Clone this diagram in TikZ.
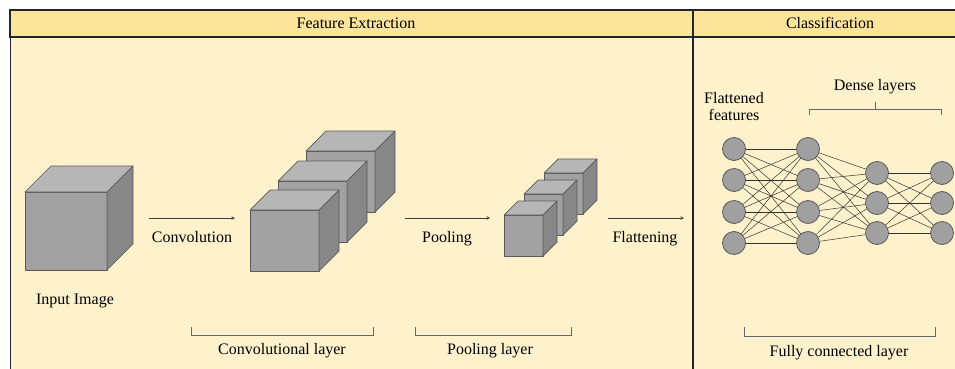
\documentclass[tikz,border=0pt]{standalone}
\usepackage{fontspec}
\setmainfont{Liberation Serif}
\usetikzlibrary{arrows,calc,positioning}

\definecolor{headfill}{HTML}{FDE49B}
\definecolor{bodyfill}{HTML}{FEF2CC}
\definecolor{framecol}{HTML}{23262E}
\definecolor{cubefront}{HTML}{A2A2A2}
\definecolor{cubetop}{HTML}{B6B6B6}
\definecolor{cubeside}{HTML}{878787}
\definecolor{neuronfill}{HTML}{A0A0A0}

% cube: x, y of front top-left corner, width, height, depth
\newcommand{\boxcube}[5]{%
  \filldraw[cubeface, fill=cubefront] (#1,#2) rectangle ({#1+#3},{#2+#4});
  \filldraw[cubeface, fill=cubetop] (#1,#2) -- ({#1+#5},{#2-#5})
    -- ({#1+#3+#5},{#2-#5}) -- ({#1+#3},#2) -- cycle;
  \filldraw[cubeface, fill=cubeside] ({#1+#3},#2) -- ({#1+#3+#5},{#2-#5})
    -- ({#1+#3+#5},{#2+#4-#5}) -- ({#1+#3},{#2+#4}) -- cycle;
}

\begin{document}
\begin{tikzpicture}[
	  x=1pt,
	  y=-1pt,
	  >=stealth,
	  every node/.style={font=\fontsize{16}{17}\selectfont},
	  lbl/.style={
		  inner sep=0pt,
		  text height=11pt,
		  text depth=0pt
	  },
	  cubeface/.style={
		  draw=black!65,
		  line width=0.7pt,
		  line join=round
	  },
	  neuron/.style={
		  circle,
		  draw=black!65,
		  fill=neuronfill,
		  line width=0.8pt,
		  minimum size=23pt,
		  inner sep=0pt
	  },
	  edge/.style={
		  draw=black!80,
		  line width=0.5pt
	  },
	  bracket/.style={
		  draw=black!60,
		  line width=0.6pt
	  },
	  flow/.style={
		  ->,
		  draw=black!75,
		  line width=0.6pt
	  }
  ]

  \useasboundingbox (0,0) rectangle (955,369);
  \clip (0,0) rectangle (955,369);
  \fill[white] (0,0) rectangle (955,369);

  % Panels
  \filldraw[fill=bodyfill, draw=framecol, line width=0.8pt] (10,10) rectangle (970,380);
  \filldraw[fill=headfill, draw=framecol, line width=1.2pt] (10,10) rectangle (970,37);
  \draw[framecol, line width=1.3pt] (693,10) -- (693,380);

  \node [lbl] (feature) at (356,23) {Feature Extraction};
  \node [lbl] (classif) at (830,23) {Classification};

  % Cubes
  \boxcube{25}{192}{82}{78}{26}
  \node [lbl] (input) at (75,299) {Input Image};

  \boxcube{306}{151}{69}{61}{20}
  \boxcube{278}{181}{69}{61}{20}
  \boxcube{250}{210}{69}{61}{20}

  \boxcube{544}{173}{39}{41}{14}
  \boxcube{524}{194}{39}{41}{14}
  \boxcube{504}{215}{39}{41}{14}

  % Connecting Arrows
  \coordinate (conv-s) at (149,218);
  \coordinate (conv-e) at (235,218);
  \coordinate (pool-s) at (405,218);
  \coordinate (pool-e) at (490,218);
  \coordinate (flat-s) at (608,218);
  \coordinate (flat-e) at (684,218);
  \draw[flow] (conv-s) -- (conv-e);
  \draw[flow] (pool-s) -- (pool-e);
  \draw[flow] (flat-s) -- (flat-e);
  \node [lbl] (conv) at (192,237) {Convolution};
  \node [lbl] (pool) at (447,237) {Pooling};
  \node [lbl] (flat) at (645,237) {Flattening};

  % Brackets
  \coordinate (convb-w) at (191,327);
  \coordinate (convb-e) at (373,327);
  \coordinate (poolb-w) at (415,327);
  \coordinate (poolb-e) at (571,327);
  \coordinate (fcb-w) at (744,327);
  \coordinate (fcb-e) at (935,327);
  \coordinate (dense-w) at (809,115);
  \coordinate (dense-e) at (941,115);
  \coordinate (dense-m) at (875,102);
  \draw[bracket] (convb-w) -- ++(0,8) -| (convb-e);
  \draw[bracket] (poolb-w) -- ++(0,8) -| (poolb-e);
  \draw[bracket] (fcb-w) -- ++(0,9) -| (fcb-e);
  \draw[bracket] (dense-w) -- ++(0,-6) -| (dense-e);
  \draw[bracket] (dense-m) -- ++(0,7);
  \node [lbl] (convlayer) at (282,349) {Convolutional layer};
  \node [lbl] (poollayer) at (490,349) {Pooling layer};
  \node [lbl] (fclayer) at (839,351) {Fully connected layer};
  \node [lbl] (dense) at (875,85) {Dense layers};

  % Fully connected network
  \foreach \i/\y in {1/149,2/180,3/212,4/243} {
    \node [neuron] (a\i) at (734,\y) {};
    \node [neuron] (b\i) at (808,\y) {};
  }
  \foreach \i/\y in {1/173,2/203,3/233} {
    \node [neuron] (c\i) at (877,\y) {};
    \node [neuron] (d\i) at (942,\y) {};
  }
  \foreach \i in {1,...,4} {
    \foreach \j in {1,...,4} \draw[edge] (a\i) -- (b\j);
    \foreach \j in {1,...,3} \draw[edge] (b\i) -- (c\j);
  }
  \foreach \i in {1,...,3}
    \foreach \j in {1,...,3} \draw[edge] (c\i) -- (d\j);

  \node [align=center, inner sep=0pt, above=16pt of a1] (flatfeat) {Flattened\\features};

\end{tikzpicture}
\end{document}
